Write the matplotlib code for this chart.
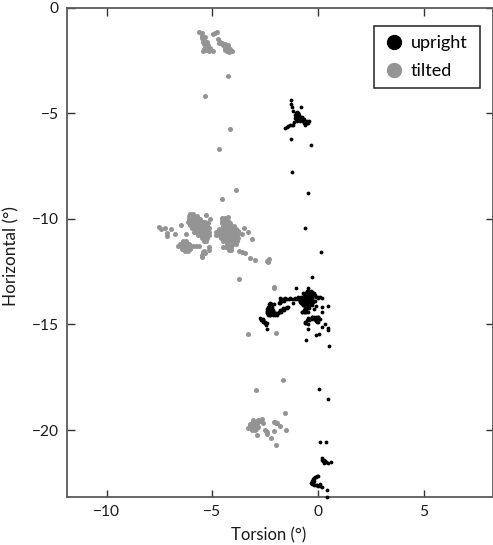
import matplotlib
matplotlib.use("Agg")
import matplotlib.pyplot as plt
from matplotlib.lines import Line2D

plt.rcParams['font.family'] = ['Lato', 'DejaVu Sans']

#upright points (torsion, horizontal)
upright_x = [-1.29, -1.26, -1.21, -0.82, -1.17, -1.01, -0.93, -1.04, -0.85, -1.09, -0.93, -0.77, -0.69, -0.54, -0.46, -0.62, -1.14, -1.25, -1.40, -1.56, -1.26, -0.35,
             -1.23, -0.47, -0.62, 0.14,
             -0.27, -1.04, -0.49,
             -0.69, -0.46, -0.30, -0.14, -0.77, -0.54, -0.30, -0.85, -0.61, -0.38, -0.69, -0.54, -0.46, -0.93, -0.22, 0.02, 0.17, -0.09, 0.17, 0.49, 0.17, -0.19, -0.77, -0.61,
             -1.80, -1.56, -1.32, -1.09, -1.80, -1.64, -1.17,
             -2.27, -2.35, -2.43, -2.27, -2.03, -1.80, -1.64, -1.48, -1.40, -2.11,
             -2.74, -2.59, -2.51, -2.43,
             -0.61, -0.46, -0.30, -0.14, 0.02, -0.09, -0.46, -0.49, 0.33, 0.17, 0.46, 0.47, -0.55, -0.09, 0.05, 0.54,
             0.05, 0.49, 0.08, 0.38,
             0.17, 0.30, 0.36, 0.49, 0.60,
             0.01, -0.14, -0.30, -0.35, -0.19, 0.01, 0.17, 0.09, 0.41, 0.41,
             -0.05, -0.10, -0.20, -0.25, -0.30, -0.22, -0.30, -0.10, -0.05, 0.10, -0.20, 0.20, 0.25, 0.33, 0.30]
upright_y = [-4.39, -4.57, -4.72, -4.71, -4.88, -4.93, -5.01, -5.09, -5.17, -5.24, -5.29, -5.24, -5.35, -5.40, -5.48, -5.56, -5.40, -5.56, -5.61, -5.70, -6.21, -6.52,
             -7.78, -8.78, -10.44, -11.57,
             -12.77, -13.29, -13.29,
             -13.53, -13.45, -13.45, -13.61, -13.76, -13.68, -13.76, -13.92, -13.92, -14.00, -14.08, -14.16, -13.84, -13.68, -13.92, -13.73, -13.73, -14.11, -14.19, -14.14, -14.43, -14.28, -14.39, -14.43,
             -13.76, -13.76, -13.76, -13.76, -13.92, -13.84, -14.00,
             -14.00, -14.24, -14.39, -14.55, -14.47, -14.39, -14.28, -14.16, -14.19, -14.32,
             -14.71, -14.79, -14.95, -15.21,
             -14.87, -14.71, -14.63, -14.71, -14.66, -14.82, -14.98, -15.21, -14.98, -15.10, -15.18, -15.26, -15.74, -15.51, -15.45, -16.02,
             -18.07, -18.53, -20.55, -20.58,
             -21.34, -21.39, -21.50, -21.54, -21.50,
             -22.18, -22.24, -22.40, -22.52, -22.60, -22.65, -22.71, -22.55, -22.84, -23.15,
             -22.15, -22.20, -22.25, -22.32, -22.45, -22.50, -22.55, -22.60, -22.60, -22.65, -22.40, -21.40, -21.45, -21.45, -21.55]

#dense parts of the upright clusters, one row per horizontal value
upright_rows = [(-4.98, [-1.05, -0.95]), (-5.08, [-1.10, -1.00, -0.90]), (-5.18, [-1.03, -0.93, -0.83, -0.74]),
                (-5.28, [-1.05, -0.95, -0.85, -0.75, -0.65]), (-5.38, [-1.00, -0.85, -0.72, -0.62, -0.52, -0.44]),
                (-5.48, [-0.68, -0.58, -0.50]), (-5.58, [-1.32, -1.20]), (-5.66, [-1.48]),
                (-13.40, [-0.52, -0.42, -0.32]), (-13.50, [-0.60, -0.50, -0.40, -0.30, -0.20]),
                (-13.60, [-0.68, -0.58, -0.48, -0.38, -0.28, -0.18]),
                (-13.70, [-0.80, -0.70, -0.60, -0.50, -0.40, -0.30, -0.10, 0.00, 0.10]),
                (-13.80, [-0.90, -0.80, -0.70, -0.60, -0.50, -0.40, -0.30]),
                (-13.90, [-0.85, -0.75, -0.65, -0.55, -0.45, -0.35, -0.25, -0.15]),
                (-14.00, [-0.80, -0.70, -0.60, -0.50, -0.40, -0.30]), (-14.10, [-0.70, -0.60, -0.50, -0.40, -0.30]),
                (-14.20, [-0.62, -0.52, -0.42]), (-14.30, [-0.68, -0.58]), (-14.40, [-0.75, -0.65, -0.55, -0.48]),
                (-13.78, [-1.75, -1.65, -1.55, -1.45, -1.35, -1.25, -1.15, -1.05, -0.95]),
                (-13.88, [-1.82, -1.72, -1.62]), (-14.00, [-1.85, -1.78]),
                (-14.05, [-2.30, -2.20, -2.10]), (-14.15, [-2.38, -2.28, -2.18]), (-14.25, [-2.40, -2.30, -2.20]),
                (-14.35, [-2.42, -2.32, -2.22, -2.12]), (-14.45, [-2.40, -2.30, -2.20, -2.10, -2.00, -1.90]),
                (-14.55, [-2.35, -2.25, -2.15, -2.05, -1.95]), (-14.40, [-1.85, -1.75]),
                (-14.30, [-1.80, -1.70, -1.60]), (-14.20, [-1.65, -1.55, -1.45]),
                (-14.72, [-2.72, -2.62]), (-14.80, [-2.68, -2.58]), (-14.88, [-2.60, -2.50]), (-14.95, [-2.52, -2.42]), (-15.02, [-2.46]),
                (-14.63, [-0.30, -0.20, -0.10, 0.00]), (-14.72, [-0.38, -0.28, -0.18, -0.08, 0.02, 0.10]),
                (-14.80, [-0.52, -0.42, -0.10, 0.00]), (-14.88, [-0.06, -0.02]), (-14.92, [-0.62, -0.55])]

#tilted points (torsion, horizontal)
tilted_x = [-5.63, -5.51, -4.87, -4.80, -4.95, -5.51, -5.35, -5.43, -5.27, -5.35, -5.19, -5.43, -5.14, -4.95, -5.11, -4.72, -4.69, -4.48, -4.24, -4.40, -4.20, -4.09, -4.32,
            -4.27, -5.33, -4.18, -4.70, -3.86, -4.52,
            -7.52, -7.44, -7.25, -6.97, -7.13, -7.16, -6.75, -6.50, -6.24,
            -5.31, -5.11, -5.19,
            -5.16, -5.16, -5.42, -5.50, -5.34,
            -4.24, -3.74, -3.61, -3.45, -3.48, -3.33, -3.58, -3.80, -3.12, -3.20, -2.98, -2.43, -2.30, -2.35, -3.72, -2.10,
            -2.10, -3.33, -2.00,
            -1.66, -2.92, -1.55,
            -3.06, -2.82, -2.67, -2.59, -3.22, -3.06, -3.30, -3.14, -2.98, -2.89, -2.04, -1.92, -1.80, -1.53, -2.51, -2.43, -2.08, -2.21, -1.97,
            -5.50, -5.45, -5.40, -5.38, -5.28, -5.30, -5.38, -5.25, -5.05, -5.35,
            -4.62, -4.55, -4.40, -4.32, -4.40, -4.25, -4.15, -4.30,
            -3.20, -3.10, -3.00, -2.90, -2.90, -3.00, -3.10, -3.22, -2.95, -2.85, -2.75, -2.48, -2.40, -2.00, -2.10,
            -5.48, -5.44, -5.40]
tilted_y = [-1.17, -1.22, -1.22, -1.14, -1.27, -1.46, -1.41, -1.62, -1.62, -1.85, -1.77, -2.06, -2.04, -2.04, -1.93, -1.51, -1.66, -1.77, -1.77, -2.01, -2.09, -2.06, -1.93,
            -3.23, -4.17, -5.75, -6.70, -8.62, -9.08,
            -10.39, -10.50, -10.43, -10.50, -10.66, -10.83, -10.73, -10.28, -10.73,
            -9.82, -10.01, -10.18,
            -11.32, -11.48, -11.55, -11.79, -11.60,
            -9.90, -11.54, -11.55, -11.63, -10.43, -10.62, -10.73, -10.59, -10.96, -11.85, -11.96, -11.98, -11.92, -12.03, -12.85, -13.24,
            -13.26, -15.45, -15.39,
            -17.62, -18.09, -19.19,
            -19.53, -19.53, -19.49, -19.68, -19.76, -19.84, -19.92, -20.00, -20.00, -20.22, -19.60, -19.65, -19.79, -19.97, -20.00, -20.16, -20.06, -20.36, -20.71,
            -1.35, -1.50, -1.55, -1.72, -1.72, -1.90, -1.95, -2.00, -2.03, -2.02,
            -1.62, -1.70, -1.72, -1.80, -1.90, -1.90, -1.95, -2.05,
            -19.70, -19.65, -19.62, -19.55, -19.70, -19.80, -19.90, -19.85, -19.95, -19.85, -19.55, -20.05, -20.10, -19.65, -19.60,
            -11.70, -11.60, -11.50]

#dense parts of the tilted clusters, one row per horizontal value
tilted_rows = [(-9.75, [-6.05, -5.92]), (-9.88, [-6.10, -5.98, -5.85, -5.75]), (-10.02, [-6.12, -6.00, -5.86, -5.72, -5.60]),
               (-10.16, [-6.13, -5.99, -5.85, -5.70, -5.56, -5.42, -5.33]), (-10.30, [-6.08, -5.96, -5.82, -5.68, -5.55, -5.40, -5.27]),
               (-10.44, [-5.97, -5.84, -5.70, -5.56, -5.42, -5.29, -5.17]), (-10.60, [-5.86, -5.72, -5.58, -5.44, -5.30, -5.18]),
               (-10.76, [-5.68, -5.55, -5.41, -5.28, -5.16]), (-10.92, [-5.50, -5.38, -5.24]), (-11.06, [-5.38, -5.28]),
               (-9.95, [-4.52, -4.38]), (-10.08, [-4.54, -4.40, -4.28]), (-10.22, [-4.55, -4.42, -4.30, -4.15]),
               (-10.36, [-4.50, -4.38, -4.25, -4.12, -3.98]), (-10.50, [-4.70, -4.56, -4.42, -4.28, -4.14, -4.00, -3.88]),
               (-10.64, [-4.85, -4.72, -4.58, -4.44, -4.30, -4.16, -4.02, -3.90, -3.78]),
               (-10.78, [-4.82, -4.68, -4.54, -4.40, -4.26, -4.12, -3.98, -3.84]),
               (-10.92, [-4.60, -4.46, -4.32, -4.18, -4.04, -3.90, -3.78]), (-11.06, [-4.50, -4.36, -4.22, -4.08, -3.94, -3.82]),
               (-11.20, [-4.32, -4.18, -4.04, -3.90]), (-11.34, [-4.50, -4.36, -4.22, -4.10]), (-11.48, [-4.20, -4.12]),
               (-11.05, [-6.25, -6.38]), (-11.18, [-6.52, -6.38, -6.24, -6.10]),
               (-11.30, [-6.62, -6.48, -6.34, -6.20, -6.06, -5.92, -5.78, -5.62]), (-11.42, [-6.45, -6.32, -6.18, -6.05]), (-11.54, [-6.28, -6.15])]

xticks = [-10, -5, 0, 5]
yticks = [0, -5, -10, -15, -20]
spine_color = "#5a5a5a"
tick_color = "#333333"
text_color = "#1a1a1a"

for row_y, row_x in upright_rows:
    upright_x = upright_x + row_x
    upright_y = upright_y + [row_y] * len(row_x)
for row_y, row_x in tilted_rows:
    tilted_x = tilted_x + row_x
    tilted_y = tilted_y + [row_y] * len(row_x)

fig = plt.figure(figsize=(4.93, 5.45), dpi=100)
ax = fig.add_axes([67 / 493, 1 - 496.5 / 545, (492.5 - 67) / 493, (496.5 - 7.5) / 545])

ax.scatter(tilted_x, tilted_y, s=13, color="#949494", linewidths=0, zorder=2)
ax.scatter(upright_x, upright_y, s=7.5, color="black", linewidths=0, zorder=3, clip_on=False)

ax.set_xlim(-11.88, 8.26)
ax.set_ylim(-23.14, 0)
ax.set_xticks(xticks)
ax.set_yticks(yticks)
ax.tick_params(direction="in", top=True, right=True, length=5.4, width=1, color=tick_color,
               labelsize=11.2, labelcolor=text_color, pad=6)
for s in ax.spines.values():
    s.set_color(spine_color)
    s.set_linewidth(1.3)

ax.set_xlabel("Torsion (°)", fontsize=12, color=text_color)
ax.set_ylabel("Horizontal (°)", fontsize=12.3, color=text_color)
ax.xaxis.set_label_coords(0.4747, -0.063)
ax.yaxis.set_label_coords(-0.112, 0.491)

#legend
handles = [Line2D([], [], marker="o", linestyle="", color="black", markersize=10),
           Line2D([], [], marker="o", linestyle="", color="#949494", markersize=10)]
leg = ax.legend(handles, ["upright", "tilted"], loc="upper left",
                bbox_to_anchor=((374.3 - 67) / 425.5, 1 - (25.7 - 7.5) / 489, 106 / 425.5, 0), mode="expand",
                fontsize=13, fancybox=False, framealpha=1, edgecolor="#222222", handletextpad=0.37,
                borderaxespad=0, borderpad=0.52, labelspacing=0.66, handlelength=1.13)
leg.get_frame().set_linewidth(1.1)

plt.savefig("out.png", dpi=100)
